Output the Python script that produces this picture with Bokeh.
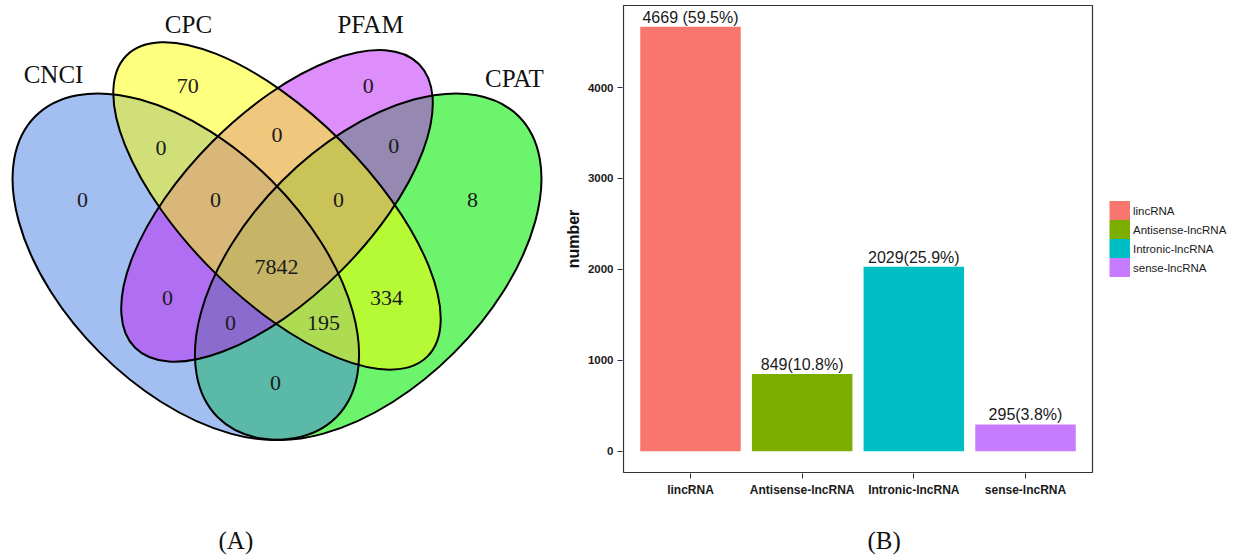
from bokeh.plotting import figure
from bokeh.models import Range1d, FixedTicker, Legend, LegendItem, Title, ColumnDataSource
from bokeh.layouts import row
from bokeh.embed import file_html
from bokeh.resources import INLINE
from bokeh.core.properties import value

# ---------------- data ----------------
set_names = ["CNCI", "CPC", "PFAM", "CPAT"]
region_sets = ["CPC", "CPC&PFAM", "PFAM", "CNCI&CPC", "CNCI&CPC&PFAM", "ALL",
               "CPC&PFAM&CPAT", "PFAM&CPAT", "CNCI", "CNCI&PFAM", "CNCI&PFAM&CPAT",
               "CNCI&CPAT", "CNCI&CPC&CPAT", "CPC&CPAT", "CPAT"]
region_counts = [70, 0, 0, 0, 0, 7842, 0, 0, 0, 0, 0, 0, 195, 334, 8]

categories = ["lincRNA", "Antisense-lncRNA", "Intronic-lncRNA", "sense-lncRNA"]
counts = [4669, 849, 2029, 295]
bar_labels = ["4669 (59.5%)", "849(10.8%)", "2029(25.9%)", "295(3.8%)"]
y_ticks = [0, 1000, 2000, 3000, 4000]

# ---------------- layout / style ----------------
ell_x = {"CNCI": 0.35, "CPC": 0.50, "PFAM": 0.50, "CPAT": 0.65}
ell_y = {"CNCI": 0.47, "CPC": 0.57, "PFAM": 0.57, "CPAT": 0.47}
ell_a = {"CNCI": 0.35, "CPC": 0.35, "PFAM": 0.33, "CPAT": 0.35}
ell_b = {"CNCI": 0.20, "CPC": 0.15, "PFAM": 0.15, "CPAT": 0.20}
ell_rot = {"CNCI": 135, "CPC": 135, "PFAM": 45, "CPAT": 45}
ell_fill = {"CNCI": "#477DE1", "CPC": "#FFFF00", "PFAM": "#BD1DF5", "CPAT": "#0AED0A"}
ell_alpha = {"CNCI": 0.5, "CPC": 0.5, "PFAM": 0.5, "CPAT": 0.6}
draw_order = ["CPAT", "CNCI", "PFAM", "CPC"]

region_lx = [0.353, 0.500, 0.650, 0.309, 0.399, 0.499, 0.601, 0.692, 0.180,
             0.320, 0.4235, 0.4975, 0.5765, 0.680, 0.8215]
region_ly = [0.768, 0.686, 0.768, 0.666, 0.579, 0.469, 0.579, 0.669, 0.579,
             0.418, 0.378, 0.278, 0.377, 0.418, 0.579]
name_lx = [0.1324, 0.3544, 0.6538, 0.8906]
name_ly = [0.786, 0.868, 0.868, 0.780]

bar_colors = ["#F8766D", "#7CAE00", "#00BFC4", "#C77CFF"]
SERIF = "Liberation Serif"
SANS = "Liberation Sans"
H = 558
TOP, BOTTOM = 4, 85


def spacer(px):
    return Title(text=" ", text_font_size="1px", standoff=px)


def panel_label(txt, offset):
    return Title(text=txt, align="left", offset=offset, standoff=0,
                 vertical_align="bottom", text_font=SERIF, text_font_size="25px",
                 text_font_style="normal", text_color="#111111")


# ---------------- panel A: Venn ----------------
pa = figure(width=560, height=H, output_backend="svg", toolbar_location=None,
            x_range=Range1d(0.0452, 0.9663), y_range=Range1d(0.1299, 0.9013),
            x_axis_type=None, y_axis_type=None, min_border_left=0,
            min_border_right=0, min_border_top=TOP, min_border_bottom=BOTTOM)
pa.grid.visible = False
pa.outline_line_color = None

for s in draw_order:
    pa.ellipse(x=[ell_x[s]], y=[ell_y[s]], width=[2 * ell_a[s]], height=[2 * ell_b[s]],
               angle=ell_rot[s], angle_units="deg", fill_color=ell_fill[s],
               fill_alpha=ell_alpha[s], line_color=None)
for s in draw_order:
    pa.ellipse(x=[ell_x[s]], y=[ell_y[s]], width=[2 * ell_a[s]], height=[2 * ell_b[s]],
               angle=ell_rot[s], angle_units="deg", fill_color=None,
               line_color="black", line_width=2)

pa.text(x=region_lx, y=region_ly, text=[str(v) for v in region_counts],
        text_align="center", text_baseline="middle", text_font=value(SERIF),
        text_font_size="22px", text_color="#1a1a1a")
pa.text(x=name_lx, y=name_ly, text=set_names, text_align="center",
        text_baseline="middle", text_font=value(SERIF), text_font_size="25px",
        text_color="#111111")
pa.add_layout(spacer(48), "below")
pa.add_layout(panel_label("(A)", 218), "below")

# ---------------- panel B: bar chart ----------------
xs = list(range(1, len(categories) + 1))
ymax = max(counts)
ppu_x = 469 / 4.2          # pixels per category unit
pad_x = 1 / ppu_x
ppu_y = 467 / (1.1 * ymax)
pad_y = 1 / ppu_y
pb = figure(width=678, height=H, output_backend="svg", toolbar_location=None,
            x_range=Range1d(0.4 - pad_x, 0.4 - pad_x + 616 / ppu_x),
            y_range=Range1d(-0.05 * ymax - pad_y, 1.05 * ymax + pad_y),
            min_border_left=62, min_border_right=0, min_border_top=TOP,
            min_border_bottom=BOTTOM)
pb.grid.visible = False
pb.outline_line_color = None

# panel border box (ggplot-style) spanning the expanded data range
pb.quad(left=[0.4], right=[len(categories) + 0.6], bottom=[-0.05 * ymax],
        top=[1.05 * ymax], fill_color=None, line_color="#333333", line_width=1.2)

src = ColumnDataSource(dict(x=xs, top=counts, cat=categories, lab=bar_labels,
                            color=bar_colors))
bars = pb.vbar(x="x", top="top", bottom=0, width=0.9, fill_color="color",
               line_color=None, source=src)
pb.text(x="x", y="top", text="lab", source=src, text_align="center",
        text_baseline="bottom", y_offset=-1, text_font=value(SANS),
        text_font_size="16px", text_color="#1a1a1a")

# legend key proxy: solid full-size colour keys (ggplot style)
key_src = ColumnDataSource(dict(xs=[[] for _ in categories], ys=[[] for _ in categories],
                                color=bar_colors))
keys = pb.multi_line(xs="xs", ys="ys", line_color="color", line_width=20,
                     line_cap="butt", source=key_src)

pb.xaxis.ticker = FixedTicker(ticks=xs)
pb.xaxis.major_label_overrides = {x: c for x, c in zip(xs, categories)}
pb.yaxis.ticker = FixedTicker(ticks=y_ticks)
pb.yaxis.axis_label = "number"
for ax in (pb.xaxis[0], pb.yaxis[0]):
    ax.major_tick_out = 5
    ax.major_tick_in = 0
    ax.minor_tick_out = 0
    ax.minor_tick_in = 0
    ax.major_tick_line_color = "#333333"
    ax.axis_line_color = None
    ax.major_label_text_font = SANS
    ax.major_label_text_font_style = "bold"
    ax.major_label_text_color = "#1a1a1a"
    ax.major_label_standoff = 4
pb.xaxis.major_label_text_font_size = "12px"
pb.yaxis.major_label_text_font_size = "11.5px"
pb.yaxis.axis_label_text_font = SANS
pb.yaxis.axis_label_text_font_style = "bold"
pb.yaxis.axis_label_text_font_size = "16px"
pb.yaxis.axis_label_text_color = "#111111"
pb.yaxis.axis_label_standoff = 3

items = [LegendItem(label=c, renderers=[keys], index=i) for i, c in enumerate(categories)]
legend = Legend(items=items, location=(487, 196), orientation="vertical",
                glyph_width=21, glyph_height=19, spacing=0, label_standoff=3,
                margin=0, padding=10, border_line_color=None,
                background_fill_alpha=0, label_text_font=SANS,
                label_text_font_size="11.5px", label_text_color="#1a1a1a",
                label_height=19)
pb.add_layout(legend)

pb.add_layout(spacer(22), "below")
pb.add_layout(panel_label("(B)", 245), "below")

layout = row(pa, pb)
open("out.html", "w").write(file_html(layout, INLINE))
